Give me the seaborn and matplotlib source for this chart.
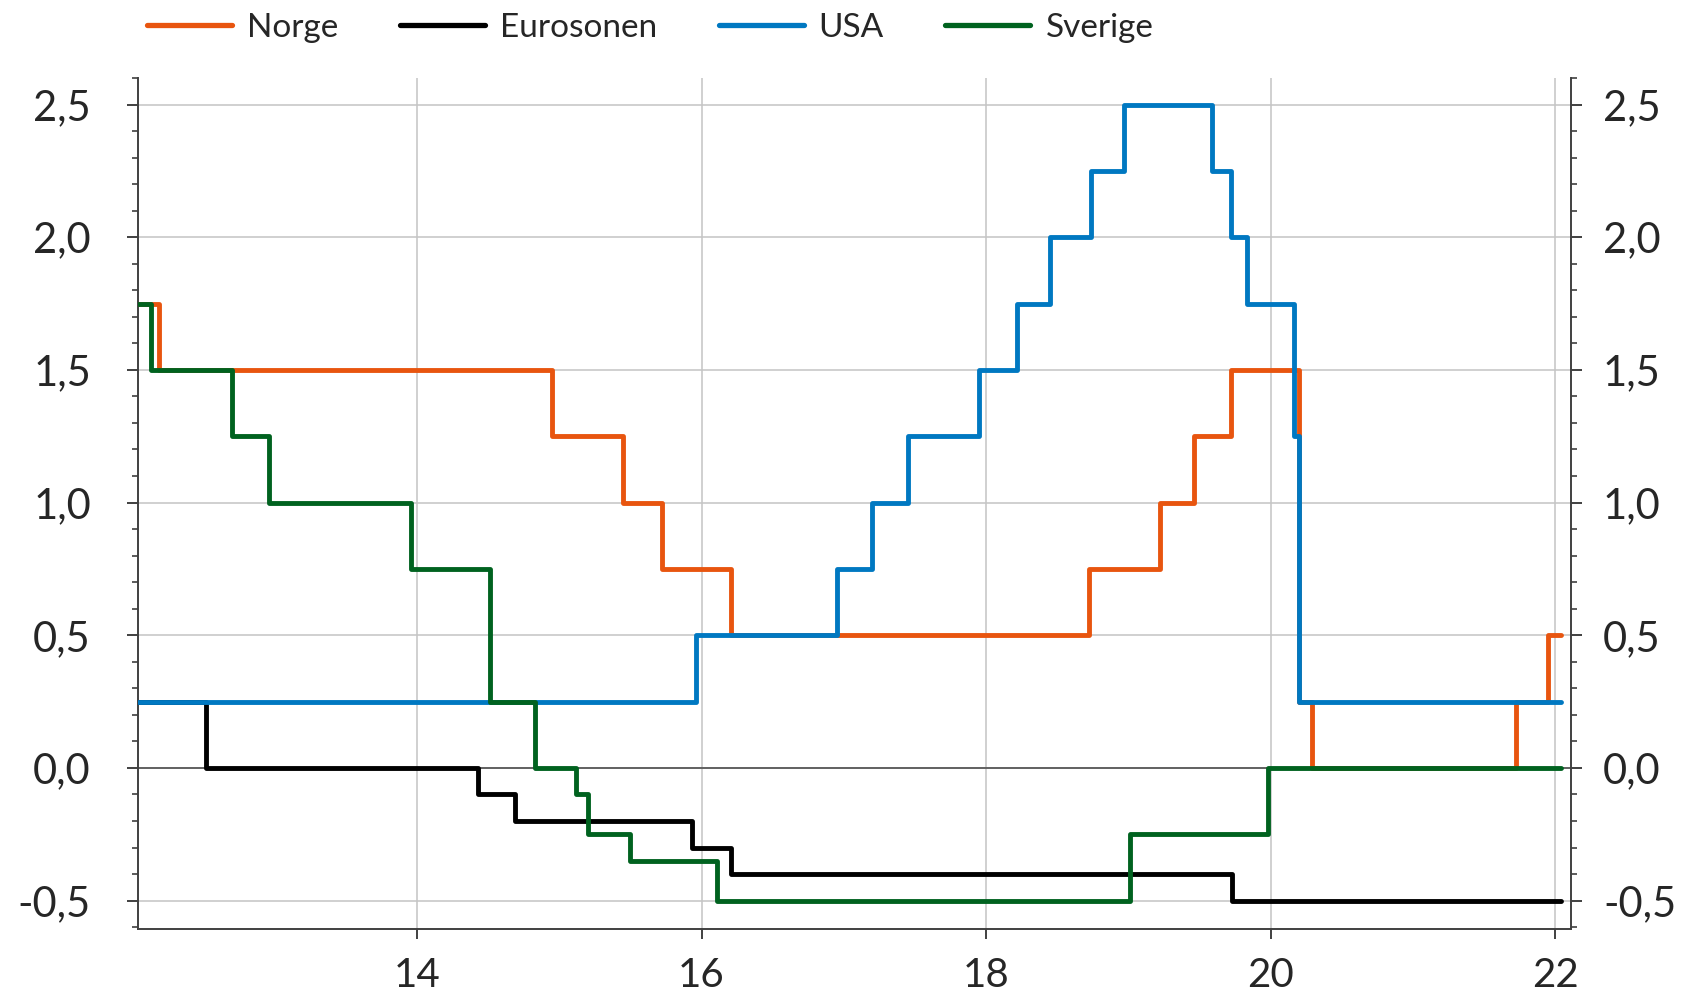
import pandas as pd
import seaborn as sns
import matplotlib.pyplot as plt
from matplotlib.ticker import MultipleLocator, FuncFormatter

# policy rates, x = year (12 = 2012), value at each change
norge_x = [12.04, 12.19, 14.95, 15.45, 15.72, 16.21, 18.72, 19.22, 19.46, 19.72, 20.20, 20.29, 21.72, 21.95, 22.04]
norge_y = [1.75, 1.5, 1.25, 1.0, 0.75, 0.5, 0.75, 1.0, 1.25, 1.5, 0.25, 0.0, 0.25, 0.5, 0.5]

euro_x = [12.04, 12.52, 14.43, 14.69, 15.93, 16.21, 19.73, 22.04]
euro_y = [0.25, 0.0, -0.1, -0.2, -0.3, -0.4, -0.5, -0.5]

usa_x = [12.04, 15.96, 16.95, 17.20, 17.45, 17.95, 18.22, 18.45, 18.74, 18.97, 19.59, 19.72, 19.83, 20.16, 20.20, 22.04]
usa_y = [0.25, 0.5, 0.75, 1.0, 1.25, 1.5, 1.75, 2.0, 2.25, 2.5, 2.25, 2.0, 1.75, 1.25, 0.25, 0.25]

sverige_x = [12.04, 12.13, 12.70, 12.96, 13.96, 14.51, 14.83, 15.12, 15.20, 15.50, 16.11, 19.01, 19.98, 22.04]
sverige_y = [1.75, 1.5, 1.25, 1.0, 0.75, 0.25, 0.0, -0.1, -0.25, -0.35, -0.5, -0.25, 0.0, 0.0]

series = [
    ("Norge", norge_x, norge_y, "#E8550F"),
    ("Eurosonen", euro_x, euro_y, "#000000"),
    ("USA", usa_x, usa_y, "#0078C1"),
    ("Sverige", sverige_x, sverige_y, "#00621F"),
]

sns.set_theme(style="white")
plt.rcParams["font.family"] = ["Lato", "DejaVu Sans"]

fig = plt.figure(figsize=(16.88, 9.91), dpi=100)
ax = fig.add_axes([0.0818, 0.0626, 0.8489, 0.8587])

ax.axhline(0, color="#595959", lw=1.3, zorder=2)
for name, xs, ys, col in series:
    sns.lineplot(x=xs, y=ys, ax=ax, color=col, linewidth=3.5, label=name,
                 drawstyle="steps-post", sort=False, zorder=3)

ylim = (-0.607, 2.6)
ax.set_xlim(12.04, 22.11)
ax.set_ylim(*ylim)
ax.xaxis.set_major_locator(MultipleLocator(2))
comma = FuncFormatter(lambda v, p: f"{v:.1f}".replace(".", ","))

ax.grid(True, which="major", color="#C4C4C4", lw=1.1, zorder=1)
ax.set_axisbelow(True)

for s in ["left", "right", "bottom"]:
    ax.spines[s].set_visible(True)
    ax.spines[s].set_color("#404040")
    ax.spines[s].set_linewidth(1.4)
ax.spines["top"].set_visible(False)

# right-hand copy of the value axis
ax2 = ax.twinx()
ax2.set_ylim(*ylim)
for s in ax2.spines.values():
    s.set_visible(False)
ax2.grid(False)

for a in [ax, ax2]:
    a.yaxis.set_major_locator(MultipleLocator(0.5))
    a.yaxis.set_minor_locator(MultipleLocator(0.1))
    a.yaxis.set_major_formatter(comma)
    a.set_ylabel("")

ax.tick_params(axis="y", which="major", direction="out", length=8, width=1.4, color="#404040",
               left=True, right=False, labelleft=True, labelright=False, labelsize=30, pad=26)
ax.tick_params(axis="y", which="minor", direction="out", length=4.5, width=1.2, color="#404040",
               left=True, right=False)
ax2.tick_params(axis="y", which="major", direction="out", length=8, width=1.4, color="#404040",
                right=True, labelright=True, labelsize=30, pad=15)
ax2.tick_params(axis="y", which="minor", direction="out", length=4.5, width=1.2, color="#404040",
                right=True)
ax.tick_params(axis="x", which="major", direction="out", length=7, width=1.4, color="#404040",
               bottom=True, labelsize=29, pad=13)
ax.set_xlabel("")

handles, labels = ax.get_legend_handles_labels()
ax.get_legend().remove()
leg = fig.legend(handles, labels, loc="upper left", bbox_to_anchor=(0.087, 0.987), ncol=4,
                 frameon=False, fontsize=24, handlelength=2.55, handletextpad=0.45,
                 columnspacing=1.85, borderpad=0, borderaxespad=0)
for h in leg.get_lines():
    h.set_linewidth(3.8)

plt.savefig("out.png", dpi=100)
